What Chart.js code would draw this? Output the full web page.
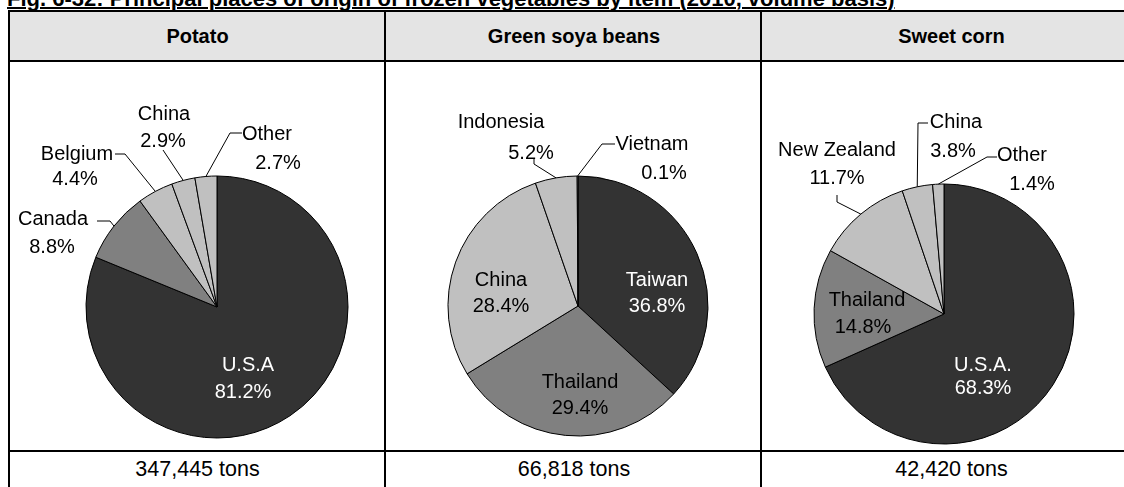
<!DOCTYPE html>
<html><head><meta charset="utf-8">
<script src="https://cdn.jsdelivr.net/npm/chart.js@4"></script>
<style>
body{margin:0;background:#fff;}
#wrap{position:relative;width:1124px;height:487px;overflow:hidden;font-family:"Liberation Sans",Arial,sans-serif;color:#000;}
#title{position:absolute;left:7px;top:-12px;font-weight:bold;font-size:22px;line-height:22px;white-space:nowrap;text-decoration:underline;text-decoration-thickness:2px;text-underline-offset:1px;}
.ln{position:absolute;background:#000;}
.hdr{position:absolute;top:12px;height:48px;background:#e4e4e4;}
.htxt{position:absolute;font-weight:bold;font-size:20px;line-height:20px;text-align:center;}
.ftxt{position:absolute;font-size:21.5px;line-height:22px;text-align:center;}
canvas{position:absolute;left:0;top:0;}
</style>
</head><body>
<div id="wrap">
  <div id="title"></div>
</div>
<script>
// ---- data ----
const titleText = "Fig. 6-32: Principal places of origin of frozen vegetables by item (2010, volume basis)";
const items = ["Potato", "Green soya beans", "Sweet corn"];
const totals = ["347,445 tons", "66,818 tons", "42,420 tons"];
const potatoOrigins = ["U.S.A", "Canada", "Belgium", "China", "Other"];
const potatoShares = [81.2, 8.8, 4.4, 2.9, 2.7];
const soyaOrigins = ["Taiwan", "Thailand", "China", "Indonesia", "Vietnam"];
const soyaShares = [36.8, 29.4, 28.4, 5.2, 0.1];
const cornOrigins = ["U.S.A.", "Thailand", "New Zealand", "China", "Other"];
const cornShares = [68.3, 14.8, 11.7, 3.8, 1.4];

// ---- styles / layout ----
const DARK = "#333333", MID = "#808080", LIGHT = "#c0c0c0";
const colEdges = [8, 385, 761, 1140];
const pieLayout = [
  {cx: 217, cy: 307, r: 131},
  {cx: 578, cy: 306, r: 130},
  {cx: 944, cy: 314, r: 130}
];
const sliceColors = [
  [DARK, MID, LIGHT, LIGHT, LIGHT],
  [DARK, MID, LIGHT, LIGHT, LIGHT],
  [DARK, MID, LIGHT, LIGHT, LIGHT]
];
// label placement relative to pie centre: name offset, value offset, text colour, leader polyline (after arc edge)
const labelLayout = [
  [
    {n: [31, 58], v: [26, 85], c: "#fff"},
    {n: [-164, -88], v: [-165, -60], c: "#000", lead: [[-107, -86], [-120, -86]]},
    {n: [-140, -153], v: [-142, -128], c: "#000", lead: [[-92, -153], [-102, -153]]},
    {n: [-53, -193], v: [-54, -166], c: "#000", lead: [[-54, -157]]},
    {n: [50, -173], v: [61, -144], c: "#000", lead: [[13, -174], [25, -174]]}
  ],
  [
    {n: [79, -26], v: [79, 0], c: "#fff"},
    {n: [2, 76], v: [2, 102], c: "#000"},
    {n: [-77, -26], v: [-77, 0], c: "#000"},
    {n: [-77, -184], v: [-47, -153], c: "#000", lead: [[-44, -142], [-44, -148]]},
    {n: [74, -162], v: [86, -133], c: "#000", lead: [[24, -162], [37, -162]]}
  ],
  [
    {n: [39, 51], v: [39, 74], c: "#fff"},
    {n: [-77, -14], v: [-81, 13], c: "#000"},
    {n: [-107, -164], v: [-107, -136], c: "#000", lead: [[-107, -112], [-107, -119]]},
    {n: [12, -192], v: [9, -163], c: "#000", lead: [[-26, -191], [-16, -191]]},
    {n: [78, -159], v: [88, -130], c: "#000", lead: [[43, -157], [53, -157]]}
  ]
];

const W = 1124, H = 487;
const wrap = document.getElementById('wrap');
document.getElementById('title').textContent = titleText;

function addDiv(cls, css, text) {
  const d = document.createElement('div');
  d.className = cls;
  Object.assign(d.style, css);
  if (text !== undefined) d.textContent = text;
  wrap.appendChild(d);
  return d;
}
// header backgrounds
addDiv('hdr', {left: '8px', width: (W - 8) + 'px'});
// table lines
addDiv('ln', {left: '8px', top: '10px', width: (W) + 'px', height: '2px'});
addDiv('ln', {left: '8px', top: '60px', width: (W) + 'px', height: '2px'});
addDiv('ln', {left: '8px', top: '450px', width: (W) + 'px', height: '2px'});
addDiv('ln', {left: '8px', top: '10px', width: '2px', height: (H) + 'px'});
addDiv('ln', {left: '384px', top: '10px', width: '2px', height: (H) + 'px'});
addDiv('ln', {left: '760px', top: '10px', width: '2px', height: (H) + 'px'});
for (let i = 0; i < 3; i++) {
  const l = colEdges[i] + 2, w = colEdges[i + 1] - colEdges[i] - 2;
  addDiv('htxt', {left: l + 'px', width: w + 'px', top: '26px'}, items[i]);
  addDiv('ftxt', {left: l + 'px', width: w + 'px', top: '458px'}, totals[i]);
}

const labelPlugin = {
  id: 'pieLabels',
  afterDatasetsDraw(chart) {
    const ctx = chart.ctx;
    const idx = chart.options.plugins.pieLabels.index;
    const lay = labelLayout[idx];
    const meta = chart.getDatasetMeta(0);
    const labels = chart.data.labels;
    const vals = chart.data.datasets[0].data;
    ctx.save();
    ctx.font = '20px "Liberation Sans", Arial, sans-serif';
    ctx.textAlign = 'center';
    ctx.textBaseline = 'middle';
    meta.data.forEach((arc, i) => {
      const p = arc.getProps(['x', 'y', 'startAngle', 'endAngle', 'outerRadius'], true);
      const L = lay[i];
      if (L.lead) {
        const mid = (p.startAngle + p.endAngle) / 2;
        ctx.beginPath();
        ctx.strokeStyle = '#000';
        ctx.lineWidth = 1;
        ctx.moveTo(p.x + Math.cos(mid) * p.outerRadius, p.y + Math.sin(mid) * p.outerRadius);
        L.lead.forEach(q => ctx.lineTo(p.x + q[0], p.y + q[1]));
        ctx.stroke();
      }
      ctx.fillStyle = L.c;
      ctx.fillText(labels[i], p.x + L.n[0], p.y + L.n[1]);
      ctx.fillText(vals[i].toFixed(1) + '%', p.x + L.v[0], p.y + L.v[1]);
    });
    ctx.restore();
  }
};

const pieData = [
  [potatoOrigins, potatoShares],
  [soyaOrigins, soyaShares],
  [cornOrigins, cornShares]
];
pieData.forEach((pd, i) => {
  const c = document.createElement('canvas');
  c.width = W; c.height = H;
  c.style.width = W + 'px'; c.style.height = H + 'px';
  wrap.appendChild(c);
  const L = pieLayout[i];
  const side = 2 * L.r + 1;
  const left = L.cx - side / 2, top = L.cy - side / 2;
  new Chart(c, {
    type: 'pie',
    data: {
      labels: pd[0],
      datasets: [{data: pd[1], backgroundColor: sliceColors[i], borderColor: '#000', borderWidth: 1}]
    },
    options: {
      responsive: false,
      animation: false,
      events: [],
      layout: {padding: {left: left, top: top, right: W - left - side, bottom: H - top - side}},
      plugins: {legend: {display: false}, tooltip: {enabled: false}, pieLabels: {index: i}}
    },
    plugins: [labelPlugin]
  });
});
</script>
</body></html>
